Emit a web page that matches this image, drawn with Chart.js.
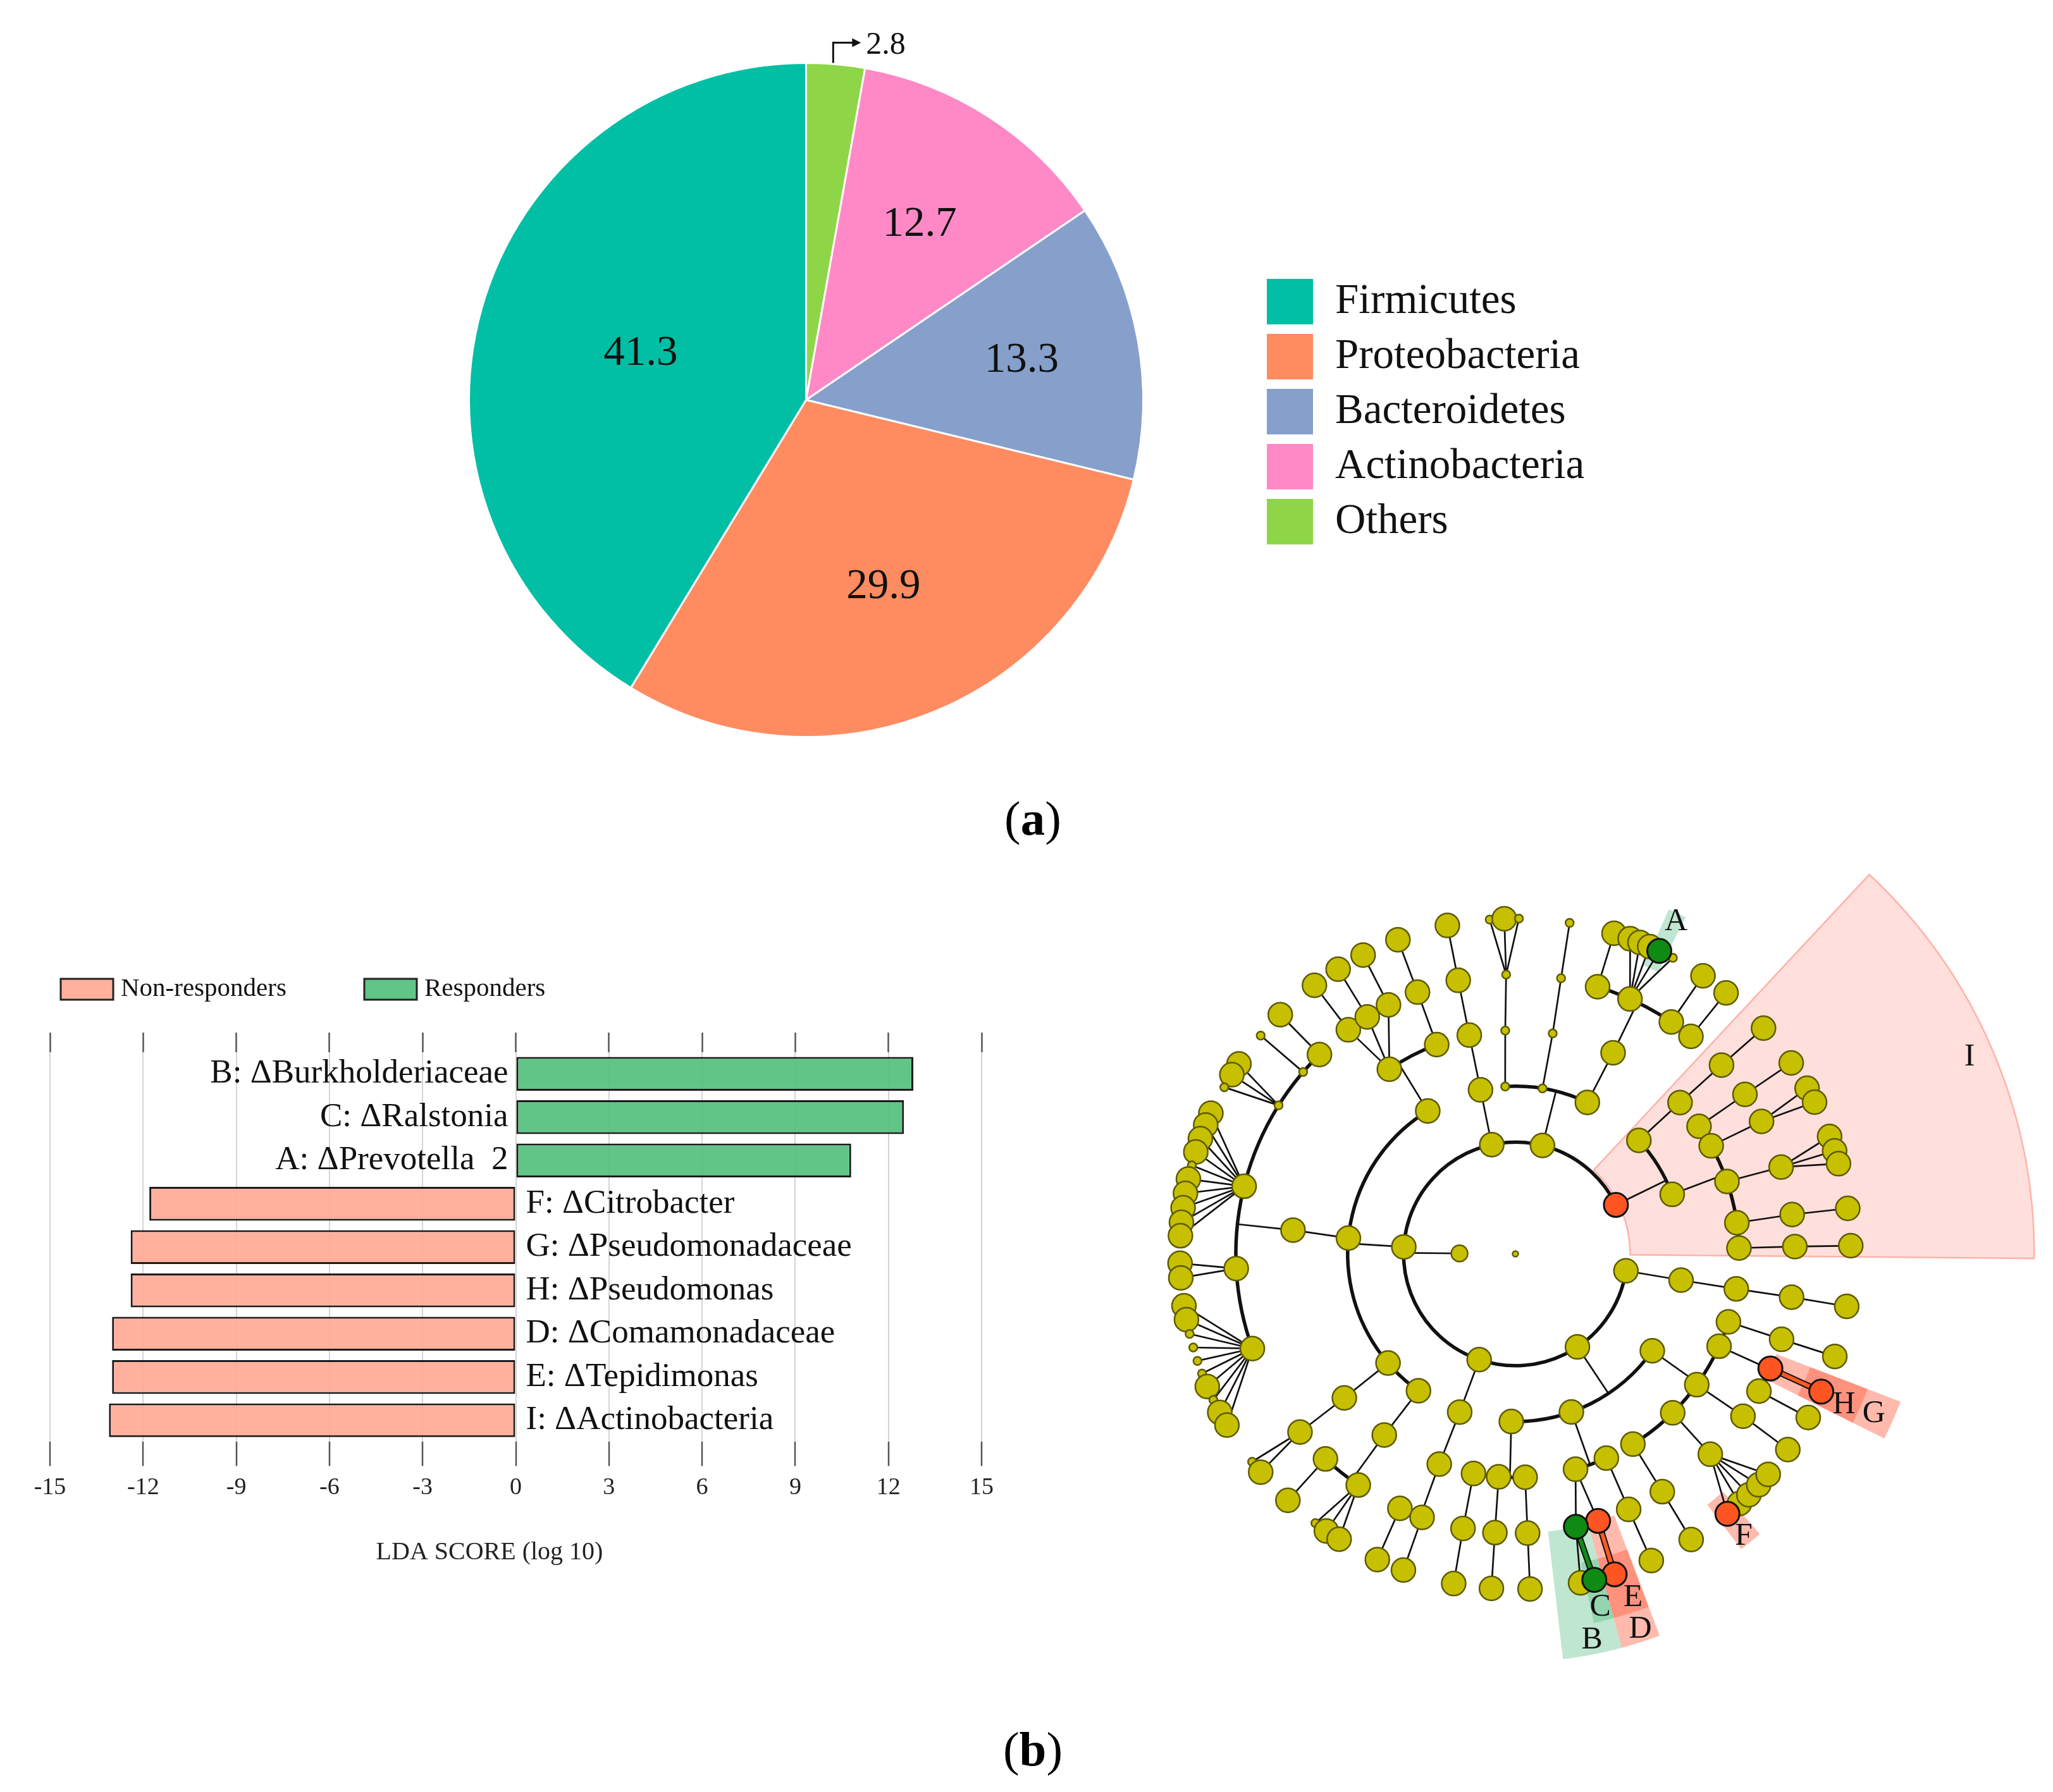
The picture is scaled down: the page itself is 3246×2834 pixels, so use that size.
<!DOCTYPE html>
<html>
<head>
<meta charset="utf-8">
<script src="https://cdn.jsdelivr.net/npm/chart.js@4.4.1/dist/chart.umd.min.js"></script>
<style>
  html, body { margin: 0; padding: 0; background: #fff; }
  body { width: 3246px; height: 2834px; position: relative; overflow: hidden; font-family: "Liberation Serif", serif; }
  canvas { position: absolute; }
  .panel { position: absolute; font-size: 77px; color: #000; transform: translate(-50%, -50%); white-space: nowrap; }
</style>
</head>
<body>
<canvas id="pie" width="3246" height="1250" style="left:0;top:0"></canvas>
<div class="panel" style="left:1633px;top:1294px">(<b>a</b>)</div>
<canvas id="lda" width="1650" height="1000" style="left:0;top:1500px"></canvas>
<canvas id="clado" width="1550" height="1400" style="left:1696px;top:1283px"></canvas>
<div class="panel" style="left:1633px;top:2766px">(<b>b</b>)</div>
<script>
// ---- (a) phylum composition ----
var phylumNames = ['Firmicutes', 'Proteobacteria', 'Bacteroidetes', 'Actinobacteria', 'Others'];
var phylumShare = [41.3, 29.9, 13.3, 12.7, 2.8];
var phylumColors = ['#00BFA4', '#FF8B60', '#86A0CB', '#FF89C7', '#8ED648'];

// ---- (b) LDA scores ----
var ldaLabels = ['B: \u0394Burkholderiaceae', 'C: \u0394Ralstonia', 'A: \u0394Prevotella  2', 'F: \u0394Citrobacter',
  'G: \u0394Pseudomonadaceae', 'H: \u0394Pseudomonas', 'D: \u0394Comamonadaceae', 'E: \u0394Tepidimonas', 'I: \u0394Actinobacteria'];
var ldaScores = [12.8, 12.5, 10.8, -11.8, -12.4, -12.4, -13.0, -13.0, -13.1];
var ldaGroups = ['Non-responders', 'Responders'];
var ldaTicks = [-15, -12, -9, -6, -3, 0, 3, 6, 9, 12, 15];
var ldaTitle = 'LDA SCORE (log 10)';

// ---- (b) cladogram: key, parent, level, angle (deg, ccw from east), flags (s small, m medium, d dot, r red, g green, f fan) ----
var cladeNodes = [
  ['r', '', 0, 0, 'd'],
  ['k', 'r', 1, 179.5, 'm'],
  ['p1', 'k', 2, 176.4, ''], ['p2', 'k', 2, 102.2, ''], ['p3', 'k', 2, 76, ''], ['p4', 'k', 2, 26, 'r'],
  ['p5', 'k', 2, 351.3, ''], ['p6', 'k', 2, 303.7, ''], ['p7', 'k', 2, 251.1, ''],
  ['c1', 'p1', 3, 121.5, ''], ['c2', 'p1', 3, 174.6, ''], ['c3', 'p1', 3, 220.6, ''], ['c4', 'p1', 3, 234.7, ''],
  ['c5', 'p2', 3, 102, ''],
  ['c6', 'p3', 3, 93.5, 's'], ['c7', 'p3', 3, 80.7, 's'], ['c8', 'p3', 3, 64.6, ''],
  ['c9', 'p4', 3, 42.6, ''], ['c10', 'p4', 3, 20.8, ''],
  ['c11', 'p5', 3, 351, ''],
  ['c12', 'p6', 3, 268.6, ''], ['c13', 'p6', 3, 289.5, ''], ['c14', 'p6', 3, 324.7, ''],
  ['c15', 'p7', 3, 250.6, ''],
  ['o1', 'c1', 4, 124.3, 'f'], ['o2', 'c1', 4, 110.6, ''],
  ['o3', 'c2', 4, 173.9, ''],
  ['o4', 'c3', 4, 220.1, ''],
  ['o5', 'c4', 4, 234.1, ''],
  ['o6', 'c5', 4, 101.9, ''],
  ['o7', 'c6', 4, 92.6, 's'],
  ['o8', 'c7', 4, 80.4, 's'],
  ['o9', 'c8', 4, 64.1, ''],
  ['o10', 'c9', 4, 42.6, ''],
  ['o11', 'c10', 4, 34.8, ''], ['o12', 'c10', 4, 28.9, ''], ['o13', 'c10', 4, 18.9, ''], ['o14', 'c10', 4, 8.0, ''], ['o15', 'c10', 4, 1.5, ''],
  ['o16', 'c11', 4, 351, ''],
  ['o17', 'c12', 4, 259.2, ''], ['o18', 'c12', 4, 265.7, ''], ['o19', 'c12', 4, 272.5, ''],
  ['o20', 'c13', 4, 285.6, 'f'], ['o21', 'c13', 4, 294, ''],
  ['o22', 'c14', 4, 301.7, ''], ['o23', 'c14', 4, 314.7, ''], ['o24', 'c14', 4, 324.2, ''], ['o25', 'c14', 4, 335.6, ''], ['o26', 'c14', 4, 342.3, ''],
  ['o27', 'c15', 4, 250.1, ''],
  ['f1', 'o1', 5, 126.7, ''], ['f2', 'o1', 5, 122, ''], ['f3', 'o1', 5, 117, ''],
  ['f4', 'o2', 5, 110.5, ''],
  ['f5', 'o3', 5, 134.5, ''], ['f6', 'o3', 5, 139.4, 's'], ['f7', 'o3', 5, 147.9, 'sf'], ['f8', 'o3', 5, 166, 'f'], ['f9', 'o3', 5, 183, 'f'], ['f10', 'o3', 5, 199.8, 'f'],
  ['f11', 'o4', 5, 219.6, 'f'],
  ['f12', 'o5', 5, 227.2, ''], ['f13', 'o5', 5, 235.8, 'f'],
  ['f14', 'o6', 5, 101.8, ''],
  ['f15', 'o7', 5, 91.9, 'sf'],
  ['f16', 'o8', 5, 80.6, 's'],
  ['f17', 'o9', 5, 72.9, ''], ['f18', 'o9', 5, 65.8, 'f'], ['f19', 'o9', 5, 56.1, ''], ['f20', 'o9', 5, 51.1, ''],
  ['f21', 'o10', 5, 42.5, ''],
  ['f22', 'o11', 5, 34.8, ''],
  ['f23', 'o12', 5, 28.3, 'f'],
  ['f24', 'o13', 5, 18.1, 'f'],
  ['f25', 'o14', 5, 8.1, ''],
  ['f26', 'o15', 5, 1.5, ''],
  ['f27', 'o16', 5, 351.1, ''],
  ['f28', 'o17', 5, 259.2, ''],
  ['f29', 'o18', 5, 265.8, ''],
  ['f30', 'o19', 5, 272.5, ''],
  ['f31', 'o20', 5, 282.5, 'gf'], ['f32', 'o20', 5, 287.2, 'r'],
  ['f33', 'o21', 5, 293.9, ''],
  ['f34', 'o22', 5, 301.7, ''],
  ['f35', 'o23', 5, 314.2, 'f'],
  ['f36', 'o24', 5, 324.5, ''],
  ['f37', 'o25', 5, 330.6, ''], ['f38', 'o25', 5, 335.8, 'r'],
  ['f39', 'o26', 5, 342.2, ''],
  ['f40', 'o27', 5, 245.6, ''], ['f41', 'o27', 5, 250.5, '']
];

// leaves (level 6): parent, angle, flags
var cladeLeaves = [
  ['f1', 126.8, ''], ['f2', 121.9, ''], ['f3', 117, ''], ['f4', 110.5, ''],
  ['f5', 134.5, ''], ['f6', 139.4, 's'],
  ['f7', 145.5, ''], ['f7', 147.7, ''], ['f7', 150.2, 's'],
  ['f8', 155.2, ''], ['f8', 157.4, ''], ['f8', 159.9, ''], ['f8', 162.3, ''], ['f8', 164.7, 's'],
  ['f8', 167.1, ''], ['f8', 169.6, ''], ['f8', 172.1, ''], ['f8', 174.6, ''], ['f8', 176.9, ''],
  ['f9', 181.6, ''], ['f9', 184.1, ''],
  ['f10', 188.9, ''], ['f10', 191.3, ''], ['f10', 193.8, 's'], ['f10', 196.2, 's'], ['f10', 198.6, 's'],
  ['f10', 200.9, 's'], ['f10', 203.3, ''], ['f10', 205.8, 's'], ['f10', 208.2, ''], ['f10', 210.7, ''],
  ['f11', 218.3, 's'], ['f11', 220.6, ''],
  ['f12', 227.3, ''],
  ['f13', 233.4, 's'], ['f13', 235.7, ''], ['f13', 238.3, ''],
  ['f14', 101.7, ''],
  ['f15', 94.4, 's'], ['f15', 91.9, ''], ['f15', 89.4, 's'],
  ['f16', 80.7, 's'],
  ['f17', 72.9, ''],
  ['f18', 70, ''], ['f18', 68.2, ''], ['f18', 66.4, ''], ['f18', 64.6, 'g'], ['f18', 62, 's'],
  ['f19', 56, ''], ['f20', 51.1, ''], ['f21', 42.3, ''], ['f22', 34.7, ''],
  ['f23', 29.6, ''], ['f23', 26.9, ''],
  ['f24', 20.5, ''], ['f24', 17.9, ''], ['f24', 15.6, ''],
  ['f25', 7.8, ''], ['f26', 1.4, ''], ['f27', 351, ''],
  ['f28', 259.4, ''], ['f29', 265.9, ''], ['f30', 272.5, ''],
  ['f31', 281.2, ''], ['f31', 283.6, 'g'],
  ['f32', 287.2, 'r'],
  ['f33', 293.9, ''], ['f34', 301.6, ''],
  ['f35', 309.2, 'r'], ['f35', 311.9, ''], ['f35', 314.1, ''], ['f35', 316.5, ''], ['f35', 318.9, ''],
  ['f36', 324.3, ''], ['f37', 330.8, ''], ['f38', 335.75, 'r'], ['f39', 342.2, ''],
  ['f40', 245.7, ''], ['f41', 250.5, '']
];

// highlighted clades: label, angle from, angle to, inner level, outer level, colour, label level, label angle
var cladeBands = [
  ['I', -0.5, 47.0, 2.05, 9.28, 'sector', 8.85, 23.4],
  ['B', 276.7, 285.1, 5.0, 7.3, 'g', 7.05, 281.2],
  ['C', 282.0, 285.1, 5.65, 6.75, 'g', 6.5, 283.5],
  ['D', 285.1, 290.7, 5.0, 7.3, 'r', 7.08, 288.4],
  ['E', 285.1, 290.7, 5.65, 6.75, 'r', 6.5, 288.9],
  ['A', 63.2, 66.0, 5.65, 6.75, 'g', 6.6, 64.2],
  ['F', 307.4, 311.1, 5.65, 6.65, 'r', 6.5, 308.9],
  ['G', 333.4, 339.0, 5.0, 7.38, 'r', 7.02, 336.0],
  ['H', 333.4, 339.0, 5.65, 6.75, 'r', 6.47, 335.3]
];

var serif = '"Liberation Serif", "Times New Roman", serif';
Chart.defaults.font.family = serif;
Chart.defaults.color = '#111';

// ================= pie =================
var pieOrder = [4, 3, 2, 1, 0]; // clockwise from 12 o'clock
var pieLabelPos = [0, 0.62, 0.65, 0.60, 0.51];

var pieLabels = {
  id: 'pieLabels',
  afterDatasetsDraw: function (chart) {
    var ctx = chart.ctx;
    var arcs = chart.getDatasetMeta(0).data;
    ctx.save();
    ctx.fillStyle = '#111';
    ctx.strokeStyle = '#111';
    arcs.forEach(function (arc, i) {
      var p = arc.getProps(['x', 'y', 'startAngle', 'endAngle', 'outerRadius'], true);
      var mid = (p.startAngle + p.endAngle) / 2;
      var txt = phylumShare[pieOrder[i]].toFixed(1);
      if (pieLabelPos[i] === 0) {
        var x0 = p.x + Math.cos(mid) * p.outerRadius - 4;
        var y0 = p.y + Math.sin(mid) * p.outerRadius;
        ctx.lineWidth = 3;
        ctx.beginPath();
        ctx.moveTo(x0, y0 - 2);
        ctx.lineTo(x0, y0 - 34);
        ctx.lineTo(x0 + 32, y0 - 34);
        ctx.stroke();
        ctx.beginPath();
        ctx.moveTo(x0 + 44, y0 - 34);
        ctx.lineTo(x0 + 30, y0 - 41);
        ctx.lineTo(x0 + 30, y0 - 27);
        ctx.closePath();
        ctx.fill();
        ctx.font = '50px ' + serif;
        ctx.textAlign = 'left';
        ctx.textBaseline = 'middle';
        ctx.fillText(txt, x0 + 52, y0 - 30);
      } else {
        ctx.font = '67px ' + serif;
        ctx.textAlign = 'center';
        ctx.textBaseline = 'middle';
        var r = p.outerRadius * pieLabelPos[i];
        ctx.fillText(txt, p.x + Math.cos(mid) * r, p.y + Math.sin(mid) * r);
      }
    });
    // legend
    ctx.font = '67px ' + serif;
    ctx.textAlign = 'left';
    ctx.textBaseline = 'middle';
    phylumNames.forEach(function (name, i) {
      var yc = 477 + i * 87;
      ctx.fillStyle = phylumColors[i];
      ctx.fillRect(2003, yc - 36, 73, 72);
      ctx.fillStyle = '#111';
      ctx.fillText(name, 2111, yc);
    });
    ctx.restore();
  }
};

new Chart(document.getElementById('pie'), {
  type: 'pie',
  data: {
    labels: pieOrder.map(function (i) { return phylumNames[i]; }),
    datasets: [{
      data: pieOrder.map(function (i) { return phylumShare[i]; }),
      backgroundColor: pieOrder.map(function (i) { return phylumColors[i]; }),
      borderColor: '#fff',
      borderWidth: 3
    }]
  },
  options: {
    responsive: false,
    animation: false,
    devicePixelRatio: 1,
    layout: { padding: { left: 740, right: 1437, top: 98, bottom: 83 } },
    plugins: { legend: { display: false }, tooltip: { enabled: false } }
  },
  plugins: [pieLabels]
});

// ================= LDA bars =================
var ldaColors = ['rgba(255,170,150,0.92)', 'rgba(84,192,126,0.92)'];

var ldaText = {
  id: 'ldaText',
  afterDatasetsDraw: function (chart) {
    var ctx = chart.ctx;
    var x0 = chart.scales.x.getPixelForValue(0);
    var bars = chart.getDatasetMeta(0).data;
    ctx.save();
    ctx.fillStyle = '#111';
    ctx.textBaseline = 'middle';
    ctx.font = '53px ' + serif;
    bars.forEach(function (bar, i) {
      if (ldaScores[i] > 0) {
        ctx.textAlign = 'right';
        ctx.fillText(ldaLabels[i], x0 - 12, bar.y);
      } else {
        ctx.textAlign = 'left';
        ctx.fillText(ldaLabels[i], x0 + 16, bar.y);
      }
    });
    // axis title (sits left of the axis centre in the original)
    ctx.font = '40px ' + serif;
    ctx.textAlign = 'center';
    ctx.fillStyle = '#222';
    ctx.fillText(ldaTitle, 774, 955);
    // group legend
    ctx.font = '41px ' + serif;
    ctx.textAlign = 'left';
    var lx = [96, 576];
    ldaGroups.forEach(function (g, i) {
      ctx.fillStyle = ldaColors[i];
      ctx.fillRect(lx[i], 48, 83, 33);
      ctx.lineWidth = 3;
      ctx.strokeStyle = '#222';
      ctx.strokeRect(lx[i], 48, 83, 33);
      ctx.fillStyle = '#111';
      ctx.fillText(g, lx[i] + 95, 64);
    });
    ctx.restore();
  }
};

new Chart(document.getElementById('lda'), {
  type: 'bar',
  data: {
    labels: ldaLabels,
    datasets: [{
      data: ldaScores,
      backgroundColor: ldaScores.map(function (v) { return v > 0 ? ldaColors[1] : ldaColors[0]; }),
      borderColor: '#1a1a1a',
      borderWidth: 3,
      borderSkipped: false,
      barPercentage: 0.78,
      categoryPercentage: 1.0
    }]
  },
  options: {
    indexAxis: 'y',
    responsive: false,
    animation: false,
    devicePixelRatio: 1,
    layout: { padding: { left: 79, right: 98, top: 133, bottom: 112 } },
    plugins: { legend: { display: false }, tooltip: { enabled: false } },
    scales: {
      y: { display: false },
      x: {
        min: -15, max: 15,
        afterBuildTicks: function (s) { s.ticks = ldaTicks.map(function (v) { return { value: v }; }); },
        grid: { color: '#d4d4d4', lineWidth: 2, tickColor: '#555', tickWidth: 2.5, tickLength: 38 },
        border: { display: false },
        ticks: { padding: 12, font: { size: 38 }, color: '#222' }
      },
      x2: {
        axis: 'x', position: 'top', min: -15, max: 15,
        afterBuildTicks: function (s) { s.ticks = ldaTicks.map(function (v) { return { value: v }; }); },
        grid: { drawOnChartArea: false, tickColor: '#555', tickWidth: 2.5, tickLength: 31 },
        border: { display: false },
        ticks: { display: false }
      }
    }
  },
  plugins: [ldaText]
});

// ================= cladogram =================
var allNodes = [];
cladeNodes.forEach(function (n) {
  allNodes.push({ key: n[0], parent: n[1], level: n[2], angle: n[3], flags: n[4] });
});
cladeLeaves.forEach(function (n) {
  allNodes.push({ key: '', parent: n[0], level: 6, angle: n[1], flags: n[2] });
});

function polar(n) {
  var a = n.angle * Math.PI / 180;
  return { x: n.level * Math.cos(a), y: n.level * Math.sin(a) };
}
function nodeRadius(n) {
  if (n.flags.indexOf('d') >= 0) return 4.5;
  if (n.flags.indexOf('m') >= 0) return 13;
  if (n.flags.indexOf('s') >= 0) return 6.5;
  return 19;
}
function nodeColor(n) {
  if (n.flags.indexOf('r') >= 0) return 'r';
  if (n.flags.indexOf('g') >= 0) return 'g';
  return 'y';
}
function pointSet(c) {
  var list = allNodes.filter(function (n) { return nodeColor(n) === c; });
  return { pts: list.map(polar), radii: list.map(nodeRadius) };
}

var bandFill = { sector: 'rgba(255,110,90,0.22)', r: 'rgba(255,90,60,0.42)', g: 'rgba(60,180,113,0.33)' };
var edgeColor = { r: '#FF5A22', g: '#15891A' };

var cladeDraw = {
  id: 'cladeDraw',
  beforeDatasetsDraw: function (chart) {
    var ctx = chart.ctx;
    var xs = chart.scales.x, ys = chart.scales.y;
    var cx = xs.getPixelForValue(0), cy = ys.getPixelForValue(0);
    var u = xs.getPixelForValue(1) - cx;
    var rad = function (d) { return d * Math.PI / 180; };
    var pos = function (lev, ang) { return [cx + lev * u * Math.cos(rad(ang)), cy - lev * u * Math.sin(rad(ang))]; };
    ctx.save();
    // highlight bands
    cladeBands.forEach(function (b) {
      ctx.beginPath();
      ctx.arc(cx, cy, b[4] * u, -rad(b[1]), -rad(b[2]), true);
      ctx.arc(cx, cy, b[3] * u, -rad(b[2]), -rad(b[1]), false);
      ctx.closePath();
      ctx.fillStyle = bandFill[b[5]];
      ctx.fill();
      if (b[5] === 'sector') {
        ctx.strokeStyle = 'rgba(255,130,115,0.55)';
        ctx.lineWidth = 2.5;
        ctx.stroke();
      }
    });
    // branches
    ctx.lineCap = 'round';
    allNodes.forEach(function (p) {
      if (!p.key || p.level === 0) return;
      var kids = allNodes.filter(function (n) { return n.parent === p.key; });
      if (!kids.length) return;
      var a = pos(p.level, p.angle);
      if (kids.length === 1 || p.flags.indexOf('f') >= 0) {
        kids.forEach(function (k) {
          var b = pos(k.level, k.angle);
          var pc = nodeColor(p), kc = nodeColor(k);
          if (pc !== 'y' && pc === kc) {
            ctx.strokeStyle = '#111'; ctx.lineWidth = 10;
            ctx.beginPath(); ctx.moveTo(a[0], a[1]); ctx.lineTo(b[0], b[1]); ctx.stroke();
            ctx.strokeStyle = edgeColor[pc]; ctx.lineWidth = 6;
          } else {
            ctx.strokeStyle = '#111'; ctx.lineWidth = 2.7;
          }
          ctx.beginPath(); ctx.moveTo(a[0], a[1]); ctx.lineTo(b[0], b[1]); ctx.stroke();
        });
      } else {
        var lev = kids[0].level;
        var angs = kids.map(function (k) { return k.angle; }).concat([p.angle]);
        var lo = Math.min.apply(null, angs), hi = Math.max.apply(null, angs);
        var b = pos(lev, p.angle);
        ctx.strokeStyle = '#111'; ctx.lineWidth = 2.7;
        ctx.beginPath(); ctx.moveTo(a[0], a[1]); ctx.lineTo(b[0], b[1]); ctx.stroke();
        ctx.lineWidth = 5.5;
        ctx.beginPath(); ctx.arc(cx, cy, lev * u, -rad(lo), -rad(hi), true); ctx.stroke();
      }
    });
    ctx.restore();
  },
  afterDatasetsDraw: function (chart) {
    var ctx = chart.ctx;
    var xs = chart.scales.x, ys = chart.scales.y;
    var cx = xs.getPixelForValue(0), cy = ys.getPixelForValue(0);
    var u = xs.getPixelForValue(1) - cx;
    ctx.save();
    ctx.fillStyle = '#111';
    ctx.font = '50px ' + serif;
    ctx.textAlign = 'center';
    ctx.textBaseline = 'middle';
    cladeBands.forEach(function (b) {
      var a = b[7] * Math.PI / 180;
      ctx.fillText(b[0], cx + b[6] * u * Math.cos(a), cy - b[6] * u * Math.sin(a));
    });
    ctx.restore();
  }
};

var ySet = pointSet('y'), rSet = pointSet('r'), gSet = pointSet('g');
var span = 700 / 88.4;

new Chart(document.getElementById('clado'), {
  type: 'scatter',
  data: {
    datasets: [
      { data: gSet.pts, pointRadius: gSet.radii, backgroundColor: '#0F8A12', borderColor: '#111', pointBorderWidth: 3, clip: false },
      { data: rSet.pts, pointRadius: rSet.radii, backgroundColor: '#FF5522', borderColor: '#111', pointBorderWidth: 3, clip: false },
      { data: ySet.pts, pointRadius: ySet.radii, backgroundColor: '#C6C000', borderColor: '#5E5A00', pointBorderWidth: 2.5, clip: false }
    ]
  },
  options: {
    responsive: false,
    animation: false,
    devicePixelRatio: 1,
    layout: { padding: 0, autoPadding: false },
    plugins: { legend: { display: false }, tooltip: { enabled: false } },
    scales: {
      x: { type: 'linear', display: false, min: -span, max: 850 / 88.4 },
      y: { type: 'linear', display: false, min: -span, max: span }
    }
  },
  plugins: [cladeDraw]
});
</script>
</body>
</html>
